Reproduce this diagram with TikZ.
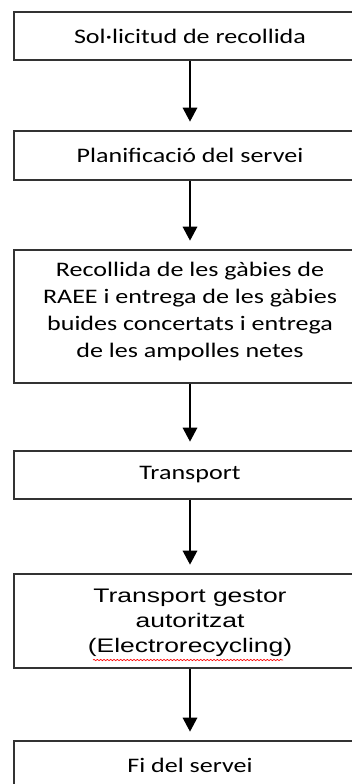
\documentclass[tikz,border=0pt]{standalone}
\usepackage{fontspec}
\setmainfont[FakeStretch=1.26]{Carlito}
\newfontfamily\arialfont[FakeStretch=1.35]{Liberation Sans}
\usetikzlibrary{arrows.meta,decorations.pathmorphing}

\begin{document}
\begin{tikzpicture}[x=0.75pt,y=-0.75pt,
    stepbox/.style={draw=black!80,line width=1.1pt,minimum width=264pt,align=center,inner sep=0pt,
        font=\fontsize{15.5}{20.25}\selectfont},
    arr/.style={-{Triangle[width=11pt,length=10.5pt]},line width=0.9pt,shorten >=6.5pt}]
    \clip (0,0) rectangle (352,784);
        \node[stepbox,minimum height=36pt] (sol) at (190,36) {Sol·licitud de recollida};
        \node[stepbox,minimum height=36.75pt] (plan) at (190,155.5) {Planificació del servei};
        \node[stepbox,minimum height=99.75pt,text depth=10.5pt] (rec) at (190,316.5) {Recollida de les gàbies de\\RAEE i entrega de les gàbies\\buides concertats i entrega\\de les ampolles netes};
        \node[stepbox,minimum height=36pt] (tra) at (190,475) {Transport};
        \node[stepbox,minimum height=70.5pt,text depth=-2pt,font=\arialfont\fontsize{14.7}{18.75}\selectfont] (ges) at (190,621) {Transport gestor\\autoritzat\\(Electrorecycling)};
        \node[stepbox,minimum height=36pt] (fi) at (190,765) {Fi del servei};
        \draw[arr] (sol) -- (plan);
        \draw[arr] (plan) -- (rec);
        \draw[arr] (rec) -- (tra);
        \draw[arr] (tra) -- (ges);
        \draw[arr] (ges) -- (fi);
        \draw[red,line width=0.5pt,decorate,decoration={snake,amplitude=0.5pt,segment length=2.5pt}] (93,660) -- (283,660);
\end{tikzpicture}
\end{document}
